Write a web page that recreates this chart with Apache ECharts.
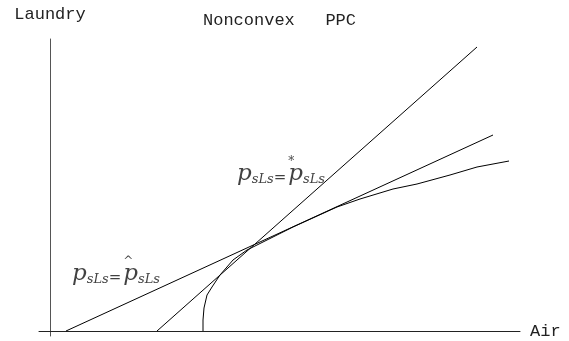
<!DOCTYPE html>
<html>
<head>
<meta charset="utf-8">
<script src="https://cdn.jsdelivr.net/npm/echarts@6/dist/echarts.min.js"></script>
<style>
  html, body { margin: 0; padding: 0; background: #fff; }
  #chart { width: 569px; height: 341px; }
</style>
</head>
<body>
<div id="chart"></div>
<script>
// PPC curve (air, laundry)
var ppcCurve = [
  [153, 0], [153, 11], [154, 23], [157, 36], [162, 44], [170, 56],
  [183, 71], [197, 81], [217, 91], [243, 104], [265, 114], [287, 124],
  [310, 132], [343, 142], [367, 147], [400, 156], [427, 164], [459, 170]
];
// price line tangent to the steep part (p = p*)
var steepLine = [[107, 0], [427, 284]];
// price line tangent to the flat part (p = p^)
var flatLine = [[16, 0], [443, 196]];

// where the two price labels sit (left edge, baseline)
var starLabelPos = [187, 145];
var hatLabelPos = [22, 45];

var font = 'Liberation Mono';
var mathFont = 'DejaVu Serif';

var myChart = echarts.init(document.getElementById('chart'));

function priceLabel(mark) {
    return {
        show: true,
        position: 'inside',
        align: 'left',
        verticalAlign: 'bottom',
        formatter: '{p|p}{s|sLs}{e|=}{m|' + mark + '}{p|p}{s|sLs}',
        rich: {
            p: { fontFamily: mathFont, fontStyle: 'italic', fontSize: 23, color: '#111', verticalAlign: 'bottom', lineHeight: 24 },
            s: { fontFamily: mathFont, fontStyle: 'italic', fontSize: 13, color: '#111', verticalAlign: 'bottom', lineHeight: 21 },
            e: { fontFamily: mathFont, fontSize: 15, color: '#111', verticalAlign: 'bottom', lineHeight: 22 },
            m: { fontFamily: mathFont, fontSize: 12, color: '#111', verticalAlign: 'top', lineHeight: 30, width: 0, padding: [0, 0, 0, 2] }
        }
    };
}

var lineStyle = { color: '#000', width: 1 };

var option = {
    animation: false,
    title: {
        text: 'Nonconvex   PPC',
        left: 198,
        top: 7,
        textStyle: { fontFamily: font, fontSize: 17, fontWeight: 'normal', color: '#222' }
    },
    grid: { left: 39, right: 49, top: 39, bottom: 5, containLabel: false },
    xAxis: {
        type: 'value',
        min: -11,
        max: 470,
        name: 'Air',
        nameLocation: 'end',
        nameGap: 10,
        nameTextStyle: { fontFamily: font, fontSize: 17, color: '#222' },
        axisLine: { show: true, onZero: true, lineStyle: { color: '#222', width: 1 } },
        axisTick: { show: false },
        axisLabel: { show: false },
        splitLine: { show: false }
    },
    yAxis: {
        type: 'value',
        min: -5,
        max: 292,
        name: 'Laundry',
        nameLocation: 'end',
        nameGap: 16,
        nameTextStyle: { fontFamily: font, fontSize: 17, color: '#222' },
        axisLine: { show: true, onZero: true, lineStyle: { color: '#555', width: 1 } },
        axisTick: { show: false },
        axisLabel: { show: false },
        splitLine: { show: false }
    },
    series: [
        { name: 'PPC', type: 'line', data: ppcCurve, showSymbol: false, lineStyle: lineStyle },
        { name: 'p*', type: 'line', data: steepLine, showSymbol: false, lineStyle: lineStyle },
        { name: 'p^', type: 'line', data: flatLine, showSymbol: false, lineStyle: lineStyle },
        {
            type: 'scatter',
            symbolSize: 0,
            silent: true,
            data: [
                { value: starLabelPos, label: priceLabel('*') },
                { value: hatLabelPos, label: priceLabel('^') }
            ]
        }
    ]
};
myChart.setOption(option);
</script>
</body>
</html>
